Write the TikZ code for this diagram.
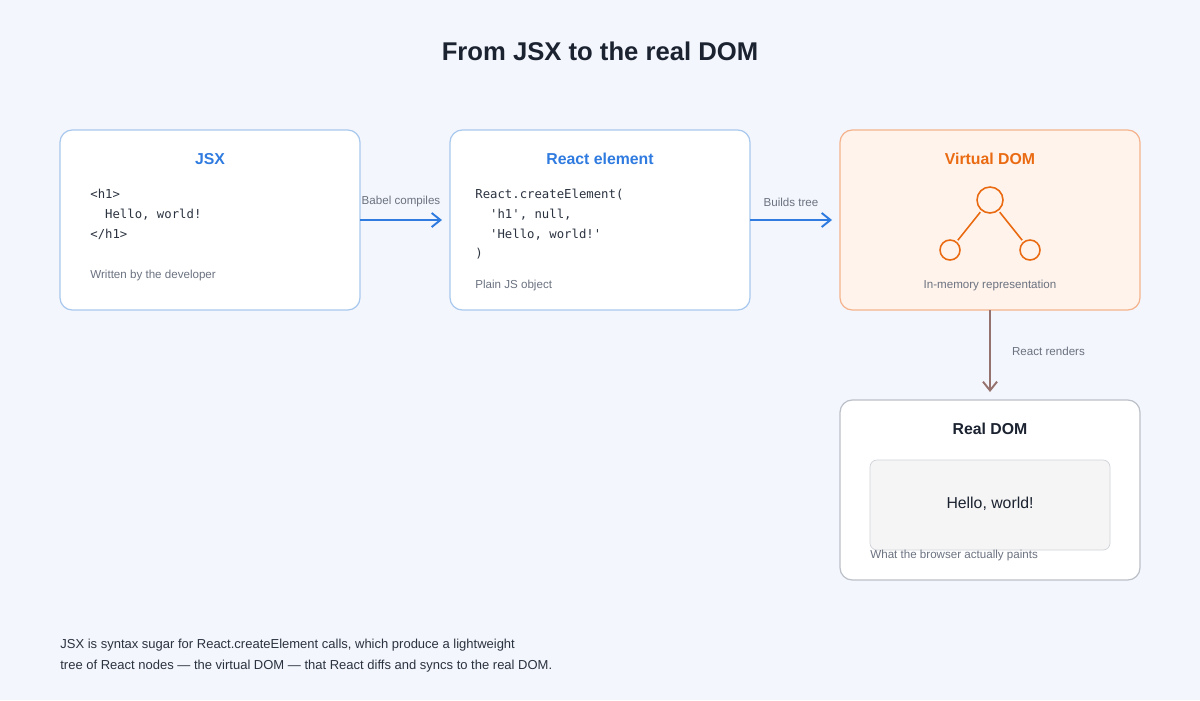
\documentclass[tikz,border=0pt]{standalone}
\usepackage{fontspec}
\setmainfont{Liberation Sans}
\setmonofont{DejaVu Sans Mono}
\usetikzlibrary{positioning,arrows.meta}
\definecolor{bluet}{HTML}{2F7BE0}
\definecolor{blueb}{HTML}{A9C8EE}
\definecolor{orangt}{HTML}{EA6A12}
\definecolor{orangb}{HTML}{F4B38D}
\definecolor{orangf}{HTML}{FFF3EB}
\definecolor{grayb}{HTML}{BCC0C8}
\definecolor{grayt}{HTML}{6B7280}
\definecolor{inkc}{HTML}{1B2230}
\definecolor{codec}{HTML}{2B3340}
\definecolor{bgc}{HTML}{F3F6FC}
\tikzset{
  card/.style={draw=blueb, fill=white, rounded corners=7pt, line width=0.7pt},
  ttl/.style={font=\bfseries\fontsize{9}{11}\selectfont},
  code/.style={font=\ttfamily\fontsize{7}{11.2}\selectfont, text=codec, align=left, anchor=north west, inner sep=0pt},
  note/.style={font=\fontsize{6.6}{8}\selectfont, text=grayt, anchor=west, inner sep=0pt},
  flow/.style={-{Straight Barb[length=5pt,width=8pt]}, line width=1.1pt, bluet},
}
\begin{document}
\begin{tikzpicture}[x=0.02cm,y=-0.02cm]
\fill[bgc] (0,0) rectangle (1200,700);
\useasboundingbox (0,0) rectangle (1200,700);
\node[ttl, font=\bfseries\fontsize{14.6}{17}\selectfont, text=inkc] (title) at (600,51) {From JSX to the real DOM};

% cards
\draw[card] (60,130) rectangle (360,310);
\draw[card] (450,130) rectangle (750,310);
\draw[card, draw=orangb, fill=orangf] (840,130) rectangle (1140,310);
\draw[card, draw=grayb] (840,400) rectangle (1140,580);
\draw[draw=grayb!70, fill=gray!8, rounded corners=4pt] (870,460) rectangle (1110,550);

\coordinate (jsxE) at (360,220);
\coordinate (relW) at (442,220);
\coordinate (relE) at (750,220);
\coordinate (vdW) at (832,220);
\coordinate (vdS) at (990,310);
\coordinate (rdN) at (990,392);

\node[ttl, text=bluet] (jsxT) at (210,159) {JSX};
\node[ttl, text=bluet] (relT) at (600,159) {React element};
\node[ttl, text=orangt] (vdT) at (990,159) {Virtual DOM};
\node[ttl, text=inkc] (rdT) at (990,429) {Real DOM};

\node[code] (jsxC) at (90,189) {<h1>\\\ \ Hello, world!\\</h1>};
\node[code] (relC) at (475,189) {React.createElement(\\\ \ 'h1', null,\\\ \ 'Hello, world!'\\)};
\node[note] (jsxN) at (90,275) {Written by the developer};
\node[note] (relN) at (475,285) {Plain JS object};
\node[note, anchor=center] (vdN) at (990,285) {In-memory representation};
\node[note] (rdN2) at (870,555) {What the browser actually paints};
\node[font=\fontsize{9}{11}\selectfont, text=inkc] (hello) at (990,504) {Hello, world!};

% tree
\node[circle, draw=orangt, line width=0.9pt, minimum size=0.52cm, inner sep=0pt] (root) at (990,200) {};
\node[circle, draw=orangt, line width=0.9pt, minimum size=0.4cm, inner sep=0pt] (kidL) at (950,250) {};
\node[circle, draw=orangt, line width=0.9pt, minimum size=0.4cm, inner sep=0pt] (kidR) at (1030,250) {};
\draw[orangt, line width=0.9pt, shorten <=1pt, shorten >=1pt] (root) -- (kidL);
\draw[orangt, line width=0.9pt, shorten <=1pt, shorten >=1pt] (root) -- (kidR);

% arrows
\draw[flow] (jsxE) -- node[above=7pt, note, anchor=south] {Babel compiles} (relW);
\draw[flow] (relE) -- node[above=7pt, note, anchor=south] {Builds tree} (vdW);
\draw[flow, orangt!55!bluet] (vdS) -- node[right=12pt, note] {React renders} (rdN);

\node[font=\fontsize{7.4}{11.6}\selectfont, text=codec, align=left, anchor=north west, inner sep=0pt] (foot) at (60,639)
{JSX is syntax sugar for React.createElement calls, which produce a lightweight\\tree of React nodes — the virtual DOM — that React diffs and syncs to the real DOM.};
\end{tikzpicture}
\end{document}
